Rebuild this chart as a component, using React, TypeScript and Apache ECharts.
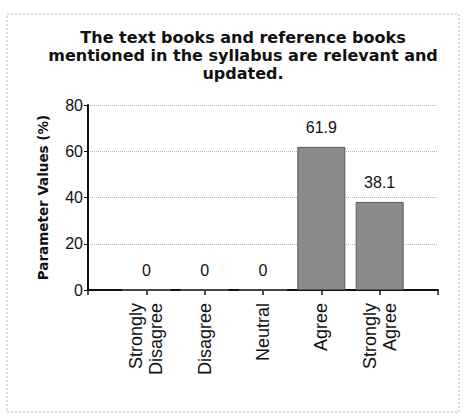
import React, { useEffect, useRef } from "react";
import * as echarts from "echarts";

const categories = ["Strongly\nDisagree", "Disagree", "Neutral", "Agree", "Strongly\nAgree"];
const values = [0, 0, 0, 61.9, 38.1];
const yTicks = [0, 20, 40, 60, 80];
const titleText = "The text books and reference books\nmentioned in the syllabus are relevant and\nupdated.";
const yAxisName = "Parameter Values (%)";

export default function App() {
  const ref = useRef<HTMLDivElement>(null);
  useEffect(() => {
    if (!ref.current) return;
    const chart = echarts.init(ref.current, null, { renderer: "svg" });
    chart.setOption({
      animation: false,
      backgroundColor: "#ffffff",
      title: {
        text: titleText,
        left: 238,
        textAlign: "center",
        top: 23,
        textStyle: {
          fontFamily: "DejaVu Sans",
          fontWeight: "bold",
          fontSize: 16,
          lineHeight: 18,
          color: "#111",
        },
      },
      graphic: [
        {
          type: "rect",
          shape: { x: 7, y: 14, width: 452, height: 398 },
          style: { fill: "none", stroke: "#bbb", lineWidth: 1, lineDash: [2, 2] },
          silent: true,
        },
      ],
      grid: { left: 88, top: 105, width: 350, height: 185, containLabel: false },
      xAxis: {
        type: "value",
        min: 0,
        max: 6,
        interval: 1,
        splitLine: { show: false },
        axisLine: { show: true, lineStyle: { color: "#111", width: 2 } },
        axisTick: { show: true, length: 5, lineStyle: { color: "#111", width: 1.5 } },
        axisLabel: {
          rotate: 90,
          fontFamily: "Liberation Sans",
          fontSize: 18,
          color: "#111",
          lineHeight: 20,
          margin: 13,
          formatter: (v: number) => (v >= 1 && v <= categories.length ? categories[v - 1] : ""),
        },
      },
      yAxis: {
        type: "value",
        min: yTicks[0],
        max: yTicks[yTicks.length - 1],
        interval: 20,
        name: yAxisName,
        nameLocation: "middle",
        nameGap: 38,
        nameTextStyle: {
          fontFamily: "DejaVu Sans",
          fontWeight: "bold",
          fontSize: 13.5,
          color: "#111",
        },
        axisLine: { show: true, lineStyle: { color: "#111", width: 2 } },
        axisTick: { show: true, length: 4, lineStyle: { color: "#111" } },
        axisLabel: { fontFamily: "Liberation Sans", fontSize: 16, color: "#111", margin: 5 },
        splitLine: { show: true, lineStyle: { color: "#b5b5b5", type: "dotted", width: 1 } },
      },
      series: [
        {
          type: "bar",
          data: values.map((v, i) => [i + 1, v]),
          barWidth: 48,
          itemStyle: { color: "#8a8a8a", borderColor: "#5a5a5a", borderWidth: 1 },
          label: {
            show: true,
            position: "top",
            distance: 11,
            fontFamily: "Liberation Sans",
            fontSize: 16,
            color: "#111",
            formatter: (p: any) => String(p.value[1]),
          },
        },
      ],
    });
    return () => chart.dispose();
  }, []);
  return <div ref={ref} style={{ position: "absolute", left: 0, top: 0, width: 465, height: 416 }} />;
}
